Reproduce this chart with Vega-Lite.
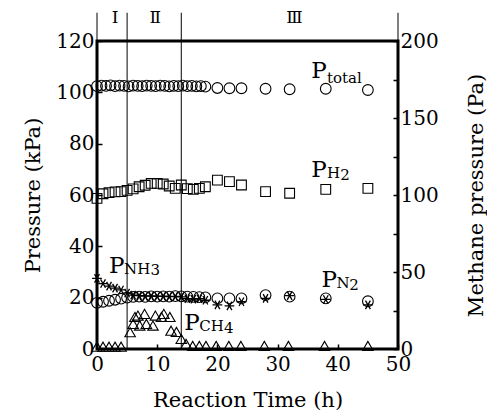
{
  "$schema": "https://vega.github.io/schema/vega-lite/v6.json",
  "width": 301,
  "height": 308,
  "autosize": {"type": "none"},
  "padding": {"left": 97, "top": 41, "right": 89, "bottom": 64},
  "background": "white",
  "config": {
    "view": {"stroke": "black", "strokeWidth": 3},
    "font": "DejaVu Serif",
    "axis": {
      "labelFont": "DejaVu Serif",
      "titleFont": "DejaVu Serif",
      "labelFontSize": 20,
      "titleFontSize": 21,
      "titleFontWeight": "normal",
      "labelColor": "black",
      "titleColor": "black",
      "domain": false,
      "grid": false,
      "tickColor": "black",
      "tickWidth": 1.5,
      "tickSize": -5,
      "labelFlush": false,
      "labelOverlap": false,
      "labelBound": false
    }
  },
  "datasets": {
    "total": [
      {"t": 0, "p": 102.4}, {"t": 0.75, "p": 102.6}, {"t": 1.5, "p": 102.5}, {"t": 2.25, "p": 102.7}, {"t": 3, "p": 102.4},
      {"t": 3.75, "p": 102.6}, {"t": 4.5, "p": 102.5}, {"t": 5.25, "p": 102.3}, {"t": 6, "p": 102.6}, {"t": 6.75, "p": 102.5},
      {"t": 7.5, "p": 102.4}, {"t": 8.25, "p": 102.6}, {"t": 9, "p": 102.5}, {"t": 9.75, "p": 102.4}, {"t": 10.5, "p": 102.6},
      {"t": 11.25, "p": 102.5}, {"t": 12, "p": 102.3}, {"t": 12.75, "p": 102.5}, {"t": 13.5, "p": 102.4}, {"t": 14.25, "p": 102.6},
      {"t": 15, "p": 102.4}, {"t": 15.75, "p": 102.5}, {"t": 16.5, "p": 102.3}, {"t": 17.25, "p": 102.4}, {"t": 18, "p": 102.2},
      {"t": 20, "p": 101.7}, {"t": 22, "p": 101.6}, {"t": 24, "p": 101.6}, {"t": 28, "p": 101.4}, {"t": 32, "p": 101.2},
      {"t": 38, "p": 101.4}, {"t": 45, "p": 100.9}
    ],
    "h2": [
      {"t": 0, "p": 58.7}, {"t": 1, "p": 60.5}, {"t": 2, "p": 60.9}, {"t": 3, "p": 61.2}, {"t": 4, "p": 61.3},
      {"t": 5, "p": 61.8}, {"t": 6, "p": 62.4}, {"t": 7, "p": 63.2}, {"t": 8, "p": 63.8}, {"t": 9, "p": 64.5},
      {"t": 10, "p": 64.5}, {"t": 11, "p": 64.3}, {"t": 12, "p": 63.5}, {"t": 13, "p": 62.6}, {"t": 14, "p": 63.9},
      {"t": 15, "p": 62.5}, {"t": 16, "p": 62.2}, {"t": 17, "p": 62.6}, {"t": 18, "p": 63.2}, {"t": 20, "p": 65.8},
      {"t": 22, "p": 65.2}, {"t": 24, "p": 63.9}, {"t": 28, "p": 61.3}, {"t": 32, "p": 60.7}, {"t": 38, "p": 62.2},
      {"t": 45, "p": 62.6}
    ],
    "n2": [
      {"t": 0, "p": 18.0}, {"t": 1, "p": 18.4}, {"t": 2, "p": 18.8}, {"t": 3, "p": 19.2}, {"t": 4, "p": 19.6},
      {"t": 5, "p": 20.0}, {"t": 6, "p": 20.3}, {"t": 7, "p": 20.4}, {"t": 8, "p": 20.3}, {"t": 9, "p": 20.5},
      {"t": 10, "p": 20.4}, {"t": 11, "p": 20.5}, {"t": 12, "p": 20.4}, {"t": 13, "p": 20.6}, {"t": 14, "p": 20.5},
      {"t": 15, "p": 20.4}, {"t": 16, "p": 20.3}, {"t": 17, "p": 20.2}, {"t": 18, "p": 20.1}, {"t": 20, "p": 19.7},
      {"t": 22, "p": 19.7}, {"t": 24, "p": 19.7}, {"t": 28, "p": 21.0}, {"t": 32, "p": 20.4}, {"t": 38, "p": 19.7},
      {"t": 45, "p": 18.6}
    ],
    "nh3": [
      {"t": 0, "p": 27.5}, {"t": 1, "p": 25.5}, {"t": 2, "p": 24.5}, {"t": 3, "p": 23.7}, {"t": 4, "p": 23.0},
      {"t": 5, "p": 21.8}, {"t": 6, "p": 21.0}, {"t": 7, "p": 20.8}, {"t": 8, "p": 20.6}, {"t": 9, "p": 20.7},
      {"t": 10, "p": 20.5}, {"t": 11, "p": 20.6}, {"t": 12, "p": 20.4}, {"t": 13, "p": 20.5}, {"t": 14, "p": 20.3},
      {"t": 15, "p": 19.6}, {"t": 16, "p": 19.4}, {"t": 17, "p": 19.6}, {"t": 18, "p": 19.0}, {"t": 20, "p": 17.2},
      {"t": 22, "p": 16.8}, {"t": 24, "p": 18.4}, {"t": 28, "p": 19.7}, {"t": 32, "p": 20.8}, {"t": 38, "p": 19.3},
      {"t": 45, "p": 17.2}
    ],
    "ch4": [
      {"t": 0, "p": 1.5}, {"t": 1, "p": 1.5}, {"t": 2, "p": 1.5}, {"t": 3, "p": 1.5}, {"t": 4, "p": 1.5},
      {"t": 5.5, "p": 10.9}, {"t": 6.0, "p": 16.3}, {"t": 6.3, "p": 20.8}, {"t": 6.8, "p": 21.7}, {"t": 7.1, "p": 15.2},
      {"t": 7.9, "p": 22.8}, {"t": 8.2, "p": 16.3}, {"t": 9.3, "p": 15.2}, {"t": 9.7, "p": 21.7}, {"t": 10.7, "p": 20.8},
      {"t": 11.1, "p": 22.8}, {"t": 12.1, "p": 20.8}, {"t": 12.3, "p": 11.9}, {"t": 13.2, "p": 11.1}, {"t": 14.0, "p": 6.5},
      {"t": 14.8, "p": 3.3}, {"t": 15.9, "p": 2}, {"t": 17, "p": 2}, {"t": 18.1, "p": 2}, {"t": 19.8, "p": 2},
      {"t": 21.9, "p": 2}, {"t": 23.9, "p": 2}, {"t": 27.8, "p": 2}, {"t": 31.8, "p": 2}, {"t": 37.8, "p": 2},
      {"t": 45, "p": 2}
    ],
    "rules": [
      {"t": 0, "y": 120, "y2": 131},
      {"t": 5, "y": 0, "y2": 131},
      {"t": 14, "y": 0, "y2": 131},
      {"t": 50, "y": 120, "y2": 131}
    ],
    "roman": [
      {"t": 3.0, "y": 129, "text": "Ⅰ"},
      {"t": 9.7, "y": 129, "text": "Ⅱ"},
      {"t": 32.8, "y": 129, "text": "Ⅲ"}
    ],
    "labels": [
      {"t": 35.6, "y": 105.5, "text": "P", "kind": "main"},
      {"t": 38.2, "y": 103.7, "text": "total", "kind": "sub"},
      {"t": 35.6, "y": 66.9, "text": "P", "kind": "main"},
      {"t": 38.2, "y": 66.5, "text": "H", "kind": "sub"},
      {"t": 40.4, "y": 65.8, "text": "2", "kind": "sub"},
      {"t": 2.0, "y": 29.5, "text": "P", "kind": "main"},
      {"t": 4.5, "y": 29.3, "text": "NH", "kind": "sub"},
      {"t": 8.9, "y": 28.8, "text": "3", "kind": "sub"},
      {"t": 37.3, "y": 24.3, "text": "P", "kind": "main"},
      {"t": 39.8, "y": 23.6, "text": "N", "kind": "sub"},
      {"t": 41.9, "y": 23.0, "text": "2", "kind": "sub"},
      {"t": 14.5, "y": 7.4, "text": "P", "kind": "main"},
      {"t": 17.0, "y": 7.0, "text": "CH", "kind": "sub"},
      {"t": 21.1, "y": 6.3, "text": "4", "kind": "sub"}
    ]
  },
  "layer": [
    {
      "layer": [
        {
          "data": {"name": "total"},
          "mark": {"type": "point", "shape": "circle", "filled": false, "stroke": "black", "strokeWidth": 1.1, "size": 115, "opacity": 1},
          "encoding": {
            "x": {"field": "t", "type": "quantitative", "scale": {"domain": [0, 50], "nice": false},
              "axis": {"values": [0, 10, 20, 30, 40, 50], "title": "Reaction Time (h)", "labelPadding": 10, "titleY": 51, "titleBaseline": "middle"}},
            "y": {"field": "p", "type": "quantitative", "scale": {"domain": [0, 120], "nice": false, "zero": false},
              "axis": {"values": [0, 10, 20, 30, 40, 50, 60, 70, 80, 90, 100, 110, 120], "labelExpr": "datum.value % 20 == 0 ? datum.label : ''", "title": "Pressure (kPa)", "labelPadding": 8, "titleX": -64, "titleBaseline": "middle"}}
          }
        },
        {
          "data": {"name": "h2"},
          "mark": {"type": "point", "shape": "square", "filled": false, "stroke": "black", "strokeWidth": 1.1, "size": 95, "opacity": 1},
          "encoding": {
            "x": {"field": "t", "type": "quantitative"},
            "y": {"field": "p", "type": "quantitative"}
          }
        },
        {
          "data": {"name": "n2"},
          "mark": {"type": "point", "shape": "circle", "filled": false, "stroke": "black", "strokeWidth": 1.1, "size": 115, "opacity": 1},
          "encoding": {
            "x": {"field": "t", "type": "quantitative"},
            "y": {"field": "p", "type": "quantitative"}
          }
        },
        {
          "data": {"name": "nh3"},
          "mark": {"type": "point", "shape": "M-1,0L1,0M-0.5,-0.87L0.5,0.87M-0.5,0.87L0.5,-0.87", "filled": false, "stroke": "black", "strokeWidth": 1.3, "size": 95, "opacity": 1},
          "encoding": {
            "x": {"field": "t", "type": "quantitative"},
            "y": {"field": "p", "type": "quantitative"}
          }
        },
        {
          "data": {"name": "rules"},
          "mark": {"type": "rule", "stroke": "black", "strokeWidth": 1, "clip": false},
          "encoding": {
            "x": {"field": "t", "type": "quantitative"},
            "y": {"field": "y", "type": "quantitative"},
            "y2": {"field": "y2"}
          }
        },
        {
          "data": {"name": "roman"},
          "mark": {"type": "text", "font": "DejaVu Serif", "fontSize": 17, "align": "center", "baseline": "middle", "color": "black"},
          "encoding": {
            "x": {"field": "t", "type": "quantitative"},
            "y": {"field": "y", "type": "quantitative"},
            "text": {"field": "text"}
          }
        },
        {
          "data": {"name": "labels"},
          "transform": [{"filter": "datum.kind == 'main'"}],
          "mark": {"type": "text", "font": "DejaVu Serif", "fontSize": 23, "align": "left", "baseline": "alphabetic", "color": "black"},
          "encoding": {
            "x": {"field": "t", "type": "quantitative"},
            "y": {"field": "y", "type": "quantitative"},
            "text": {"field": "text"}
          }
        },
        {
          "data": {"name": "labels"},
          "transform": [{"filter": "datum.kind == 'sub'"}],
          "mark": {"type": "text", "font": "DejaVu Serif", "fontSize": 15, "align": "left", "baseline": "alphabetic", "color": "black"},
          "encoding": {
            "x": {"field": "t", "type": "quantitative"},
            "y": {"field": "y", "type": "quantitative"},
            "text": {"field": "text"}
          }
        }
      ]
    },
    {
      "data": {"name": "ch4"},
      "mark": {"type": "point", "shape": "triangle-up", "filled": false, "stroke": "black", "strokeWidth": 1.1, "size": 110, "opacity": 1},
      "encoding": {
        "x": {"field": "t", "type": "quantitative"},
        "y": {"field": "p", "type": "quantitative", "scale": {"domain": [0, 200], "nice": false},
          "axis": {"orient": "right", "values": [0, 25, 50, 75, 100, 125, 150, 175, 200], "labelExpr": "datum.value % 50 == 0 ? datum.label : ''", "title": "Methane pressure (Pa)", "titleAngle": 270, "labelPadding": 7, "titleX": 78, "titleBaseline": "middle"}}
      }
    }
  ],
  "resolve": {"scale": {"y": "independent"}}
}
